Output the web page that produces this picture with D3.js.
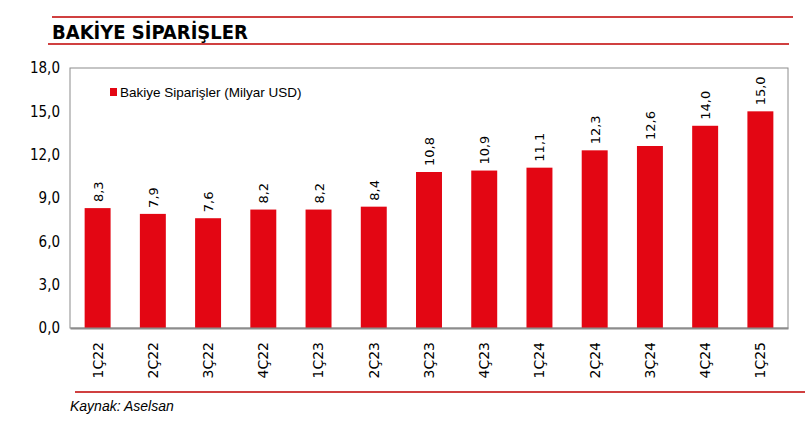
<!DOCTYPE html><html><head><meta charset="utf-8"><script src="https://cdn.jsdelivr.net/npm/d3@7"></script>
<style>body{margin:0;background:#fff}</style></head><body><svg id="c" width="805" height="437"></svg>
<script>
const categories=["1Ç22","2Ç22","3Ç22","4Ç22","1Ç23","2Ç23","3Ç23","4Ç23","1Ç24","2Ç24","3Ç24","4Ç24","1Ç25"];
const values=[8.3,7.9,7.6,8.2,8.2,8.4,10.8,10.9,11.1,12.3,12.6,14.0,15.0];
const yTicks=[0,3,6,9,12,15,18];
const seriesName="Bakiye Siparişler (Milyar USD)";
const svg=d3.select("#c");
const red="#e30613";
const L=70,R=788,T=68,B=328;
svg.append("line").attr("x1",52).attr("x2",793).attr("y1",17).attr("y2",17).attr("stroke","#c00000").attr("stroke-width",1.5);
svg.append("line").attr("x1",48).attr("x2",789).attr("y1",44).attr("y2",44).attr("stroke","#c00000").attr("stroke-width",1.5);
svg.append("text").attr("x",52).attr("y",39).text("BAKİYE SİPARİŞLER").attr("font-family","DejaVu Sans Condensed, DejaVu Sans").attr("font-weight","bold").attr("font-size",20);
const x=d3.scaleBand().domain(categories).range([L,R]).paddingInner(0.53).paddingOuter(0.265);
const y=d3.scaleLinear().domain([0,18]).range([B,T]);
svg.append("rect").attr("x",L).attr("y",T).attr("width",R-L).attr("height",B-T).attr("fill","none").attr("stroke","#8c8c8c");
svg.selectAll(".bar").data(values).join("rect").attr("x",(d,i)=>x(categories[i])).attr("y",d=>y(d)).attr("width",x.bandwidth()).attr("height",d=>B-y(d)).attr("fill",red);
svg.selectAll(".vl").data(values).join("text").attr("transform",(d,i)=>`translate(${x(categories[i])+x.bandwidth()/2+5},${y(d)-6}) rotate(-90)`).text(d=>d.toFixed(1).replace(".",",")).attr("font-family","DejaVu Sans").attr("font-size",13);
const ya=svg.append("g").attr("transform",`translate(${L},0)`).call(d3.axisLeft(y).tickValues(yTicks).tickSize(0).tickPadding(10).tickFormat(d=>d.toFixed(1).replace(".",",")));
ya.select(".domain").remove();
ya.selectAll("text").attr("font-family","DejaVu Sans Condensed, DejaVu Sans").attr("font-size",15).attr("fill","#000");
const xa=svg.append("g").attr("transform",`translate(0,${B})`).call(d3.axisBottom(x).tickSize(0));
xa.select(".domain").attr("stroke","#8c8c8c").attr("stroke-width",2);
xa.selectAll("text").attr("transform","rotate(-90)").attr("text-anchor","end").attr("x",-14).attr("y",0).attr("dy","0.35em").attr("font-family","DejaVu Sans").attr("font-size",14).attr("fill","#000");
svg.append("rect").attr("x",110).attr("y",88).attr("width",7).attr("height",8).attr("fill",red);
svg.append("text").attr("x",120).attr("y",97).text(seriesName).attr("font-family","Liberation Sans").attr("font-size",13.5);
svg.append("line").attr("x1",75).attr("x2",805).attr("y1",392).attr("y2",392).attr("stroke","#c00000").attr("stroke-width",1.5);
svg.append("text").attr("x",70).attr("y",411).text("Kaynak: Aselsan").attr("font-family","Liberation Sans").attr("font-style","italic").attr("font-size",14);
</script></body></html>
